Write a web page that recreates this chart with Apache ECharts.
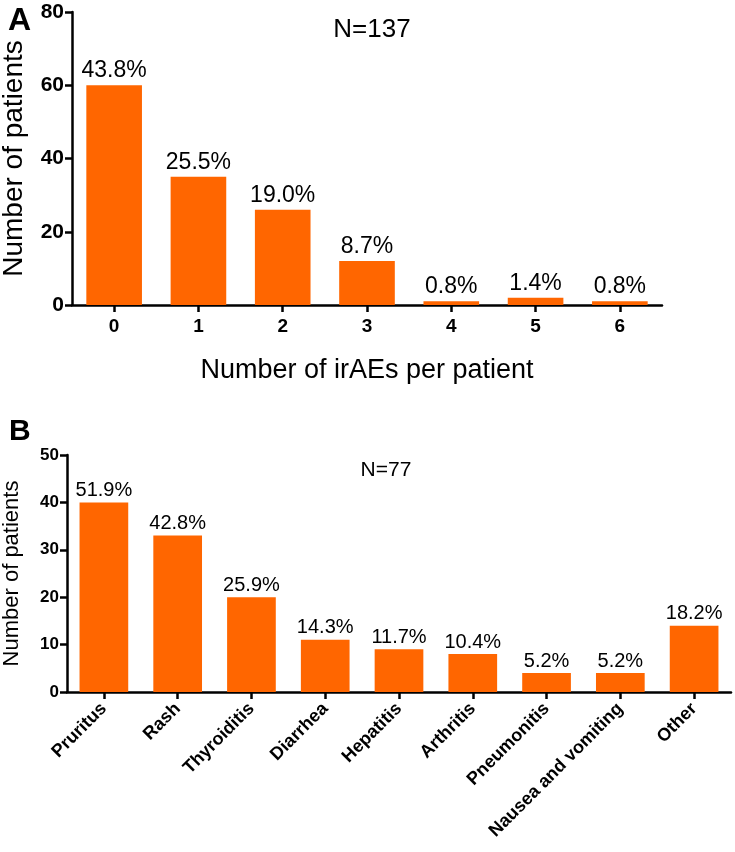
<!DOCTYPE html>
<html>
<head>
<meta charset="utf-8">
<script src="https://cdn.jsdelivr.net/npm/echarts@6/dist/echarts.min.js"></script>
<style>html,body{margin:0;padding:0;background:#fff}#c{width:735px;height:852px}</style>
</head>
<body>
<div id="c"></div>
<script>
var catsA = ['0', '1', '2', '3', '4', '5', '6'];
var valsA = [60, 35, 26, 12, 1, 2, 1];
var pctA = ['43.8%', '25.5%', '19.0%', '8.7%', '0.8%', '1.4%', '0.8%'];
var ticksA = [0, 20, 40, 60, 80];

var catsB = ['Pruritus', 'Rash', 'Thyroiditis', 'Diarrhea', 'Hepatitis', 'Arthritis', 'Pneumonitis', 'Nausea and vomiting', 'Other'];
var valsB = [40, 33, 20, 11, 9, 8, 4, 4, 14];
var pctB = ['51.9%', '42.8%', '25.9%', '14.3%', '11.7%', '10.4%', '5.2%', '5.2%', '18.2%'];
var ticksB = [0, 10, 20, 30, 40, 50];

var FONT = '"Liberation Sans", Arial, Helvetica, sans-serif';
var ORANGE = '#FF6600';
var axisLine = {show: true, lineStyle: {color: '#000', width: 2.5}};

var chart = echarts.init(document.getElementById('c'));
chart.setOption({
  backgroundColor: '#fff',
  animation: false,
  textStyle: {fontFamily: FONT},
  title: [
    {text: 'A', left: 3, top: 0, textStyle: {fontFamily: FONT, fontSize: 32, fontWeight: 'bold', color: '#000'}},
    {text: 'N=137', left: 367, top: 12, textAlign: 'center', textStyle: {fontFamily: FONT, fontSize: 26, fontWeight: 'normal', color: '#000'}},
    {text: 'B', left: 4, top: 412, textStyle: {fontFamily: FONT, fontSize: 30, fontWeight: 'bold', color: '#000'}},
    {text: 'N=77', left: 381, top: 455, textAlign: 'center', textStyle: {fontFamily: FONT, fontSize: 21, fontWeight: 'normal', color: '#000'}}
  ],
  grid: [
    {left: 72, top: 12, width: 590, height: 293, containLabel: false, outerBoundsMode: 'none'},
    {left: 67, top: 455, width: 664, height: 237, containLabel: false, outerBoundsMode: 'none'}
  ],
  xAxis: [
    {
      gridIndex: 0, type: 'category', data: catsA,
      axisLine: axisLine,
      axisTick: {show: true, alignWithLabel: true, length: 7, lineStyle: {color: '#000', width: 2.5}},
      axisLabel: {fontFamily: FONT, fontSize: 19, fontWeight: 'bold', color: '#000', margin: 12},
      name: 'Number of irAEs per patient', nameLocation: 'middle', nameGap: 52,
      nameTextStyle: {fontFamily: FONT, fontSize: 27, color: '#000'}
    },
    {
      gridIndex: 1, type: 'category', data: catsB,
      axisLine: axisLine,
      axisTick: {show: true, alignWithLabel: true, length: 7, lineStyle: {color: '#000', width: 2.5}},
      axisLabel: {fontFamily: FONT, fontSize: 18, fontWeight: 'bold', color: '#000', rotate: 45, margin: 14, interval: 0}
    }
  ],
  yAxis: [
    {
      gridIndex: 0, type: 'value', min: ticksA[0], max: ticksA[ticksA.length - 1], interval: 20,
      axisLine: axisLine,
      axisTick: {show: true, length: 7, lineStyle: {color: '#000', width: 2.5}},
      axisLabel: {fontFamily: FONT, fontSize: 21, fontWeight: 'bold', color: '#000', margin: 8},
      splitLine: {show: false},
      name: 'Number of patients', nameLocation: 'middle', nameGap: 44,
      nameTextStyle: {fontFamily: FONT, fontSize: 28, color: '#000'}
    },
    {
      gridIndex: 1, type: 'value', min: ticksB[0], max: ticksB[ticksB.length - 1], interval: 10,
      axisLine: axisLine,
      axisTick: {show: true, length: 7, lineStyle: {color: '#000', width: 2.5}},
      axisLabel: {fontFamily: FONT, fontSize: 17, fontWeight: 'bold', color: '#000', margin: 8},
      splitLine: {show: false},
      name: 'Number of patients', nameLocation: 'middle', nameGap: 44,
      nameTextStyle: {fontFamily: FONT, fontSize: 22, color: '#000'}
    }
  ],
  series: [
    {
      type: 'bar', xAxisIndex: 0, yAxisIndex: 0, data: valsA, barWidth: '66%',
      itemStyle: {color: ORANGE},
      label: {show: true, position: 'top', distance: 3, fontFamily: FONT, fontSize: 23, color: '#000',
        formatter: function (p) { return pctA[p.dataIndex]; }}
    },
    {
      type: 'bar', xAxisIndex: 1, yAxisIndex: 1, data: valsB, barWidth: '66%',
      itemStyle: {color: ORANGE},
      label: {show: true, position: 'top', distance: 2, fontFamily: FONT, fontSize: 20, color: '#000',
        formatter: function (p) { return pctB[p.dataIndex]; }}
    }
  ]
});
</script>
</body>
</html>
